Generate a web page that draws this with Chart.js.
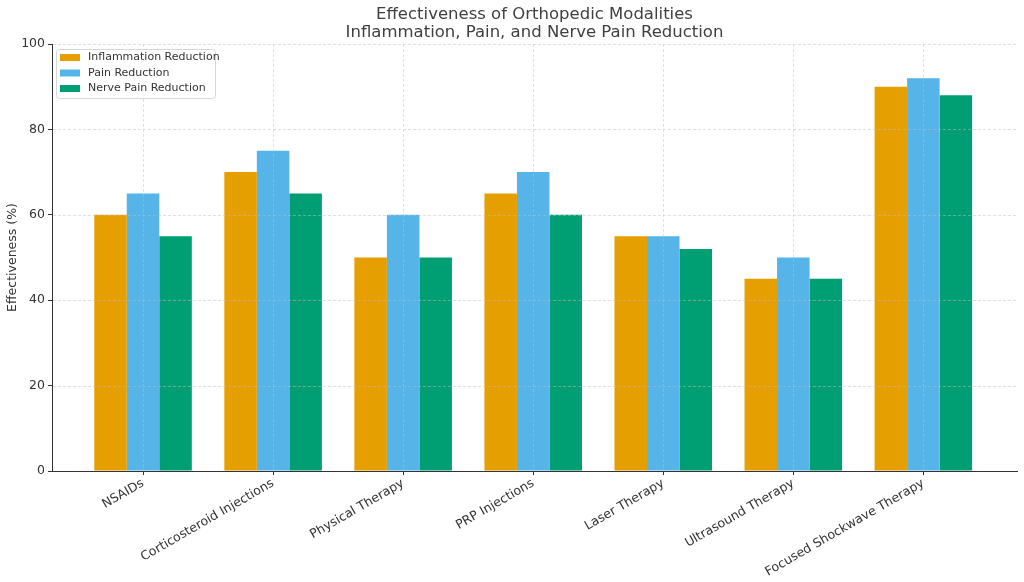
<!DOCTYPE html>
<html><head><meta charset="utf-8">
<script src="https://cdn.jsdelivr.net/npm/chart.js@4.4.0/dist/chart.umd.min.js"></script>
<style>html,body{margin:0;padding:0;background:#fff}#wrap{width:1024px;height:582px}</style>
</head><body><div id="wrap"><canvas id="c" width="1024" height="582"></canvas></div>
<script>
const categories = ["NSAIDs","Corticosteroid Injections","Physical Therapy","PRP Injections","Laser Therapy","Ultrasound Therapy","Focused Shockwave Therapy"];
const inflammation = [60,70,50,65,55,45,90];
const pain = [65,75,60,70,55,50,92];
const nervePain = [55,65,50,60,52,45,88];
const seriesNames = ["Inflammation Reduction","Pain Reduction","Nerve Pain Reduction"];
const seriesColors = ["#E69F00","#56B4E9","#009E73"];
const yTicks = [0,20,40,60,80,100];
const titleLines = ["Effectiveness of Orthopedic Modalities","Inflammation, Pain, and Nerve Pain Reduction"];
const yLabel = "Effectiveness (%)";

const FONT = "'DejaVu Sans', sans-serif";
const toPts = arr => arr.map((v,i)=>({x:i,y:v}));
const allSeries = [inflammation, pain, nervePain];

const overlay = {
  id:'overlay',
  afterDatasetsDraw(chart){
    const {ctx, chartArea:a, scales:{x,y}} = chart;
    ctx.save();
    ctx.strokeStyle='rgba(190,190,190,0.6)';
    ctx.lineWidth=0.8;
    ctx.setLineDash([3,2]);
    x.ticks.forEach(t=>{const px=Math.round(x.getPixelForValue(t.value))+0.5;ctx.beginPath();ctx.moveTo(px,a.top);ctx.lineTo(px,a.bottom-1);ctx.stroke();});
    y.ticks.forEach(t=>{if(t.value===0)return;const py=Math.round(y.getPixelForValue(t.value))+0.5;ctx.beginPath();ctx.moveTo(a.left+1,py);ctx.lineTo(a.right,py);ctx.stroke();});
    ctx.setLineDash([]);
    ctx.strokeStyle='#333';ctx.lineWidth=1;
    ctx.beginPath();ctx.moveTo(a.left,Math.round(a.bottom)+0.5);ctx.lineTo(a.right,Math.round(a.bottom)+0.5);ctx.stroke();
    x.ticks.forEach(t=>{const px=Math.round(x.getPixelForValue(t.value))+0.5;ctx.beginPath();ctx.moveTo(px,a.bottom);ctx.lineTo(px,a.bottom+4);ctx.stroke();});
    ctx.restore();
  },
  afterDraw(chart){
    const {ctx, chartArea:a} = chart;
    ctx.save();
    ctx.fillStyle='#404040';
    ctx.font='16.5px '+FONT;
    ctx.textAlign='center';ctx.textBaseline='middle';
    const cx=(a.left+a.right)/2;
    titleLines.forEach((l,i)=>ctx.fillText(l,cx,15+i*18));
    ctx.save();
    ctx.translate(13,(a.top+a.bottom)/2);
    ctx.rotate(-Math.PI/2);
    ctx.font='12.5px '+FONT;
    ctx.fillStyle='#333';
    ctx.fillText(yLabel,0,0);
    ctx.restore();
    const lx=a.left+4, ly=a.top+5, lw=159, lh=49;
    ctx.fillStyle='rgba(255,255,255,0.8)';
    ctx.strokeStyle='#d6d6d6';ctx.lineWidth=1;
    ctx.beginPath();ctx.roundRect(lx+0.5,ly+0.5,lw,lh,3);ctx.fill();ctx.stroke();
    ctx.font='11px '+FONT;ctx.textAlign='left';ctx.textBaseline='middle';
    seriesNames.forEach((n,i)=>{
      const ry=ly+8.5+i*15.5;
      ctx.fillStyle=seriesColors[i];
      ctx.fillRect(lx+4,ry-3.5,20,7);
      ctx.fillStyle='#333';
      ctx.fillText(n,lx+32,ry);
    });
    ctx.restore();
  }
};

new Chart(document.getElementById('c'),{
  type:'bar',
  data:{datasets: seriesNames.map((n,i)=>({label:n,data:toPts(allSeries[i]),backgroundColor:seriesColors[i],borderWidth:0,categoryPercentage:0.75,barPercentage:1.0}))},
  options:{
    responsive:false,animation:false,devicePixelRatio:1,
    layout:{padding:{top:44,right:7,left:0,bottom:0}},
    plugins:{legend:{display:false},title:{display:false},tooltip:{enabled:false}},
    scales:{
      x:{type:'linear',min:-0.7,max:6.72,offset:false,
        afterBuildTicks(s){s.ticks=categories.map((_,i)=>({value:i}));},
        afterFit(s){s.height=111;},
        ticks:{autoSkip:false,minRotation:30,maxRotation:30,color:'#333',font:{family:FONT,size:12.5},padding:1,callback:v=>categories[v]},
        grid:{offset:false,drawOnChartArea:false,drawTicks:true,tickLength:4,tickColor:'#333'},
        border:{display:true,color:'#333',width:1}},
      y:{min:0,max:100,
        afterBuildTicks(s){s.ticks=yTicks.map(v=>({value:v}));},
        afterFit(s){s.width=52;},
        ticks:{color:'#333',font:{family:FONT,size:12.5},padding:3},
        grid:{offset:false,drawOnChartArea:false,drawTicks:true,tickLength:4,tickColor:'#333'},
        border:{display:true,color:'#333',width:1}}
    }
  },
  plugins:[overlay]
});
</script></body></html>
